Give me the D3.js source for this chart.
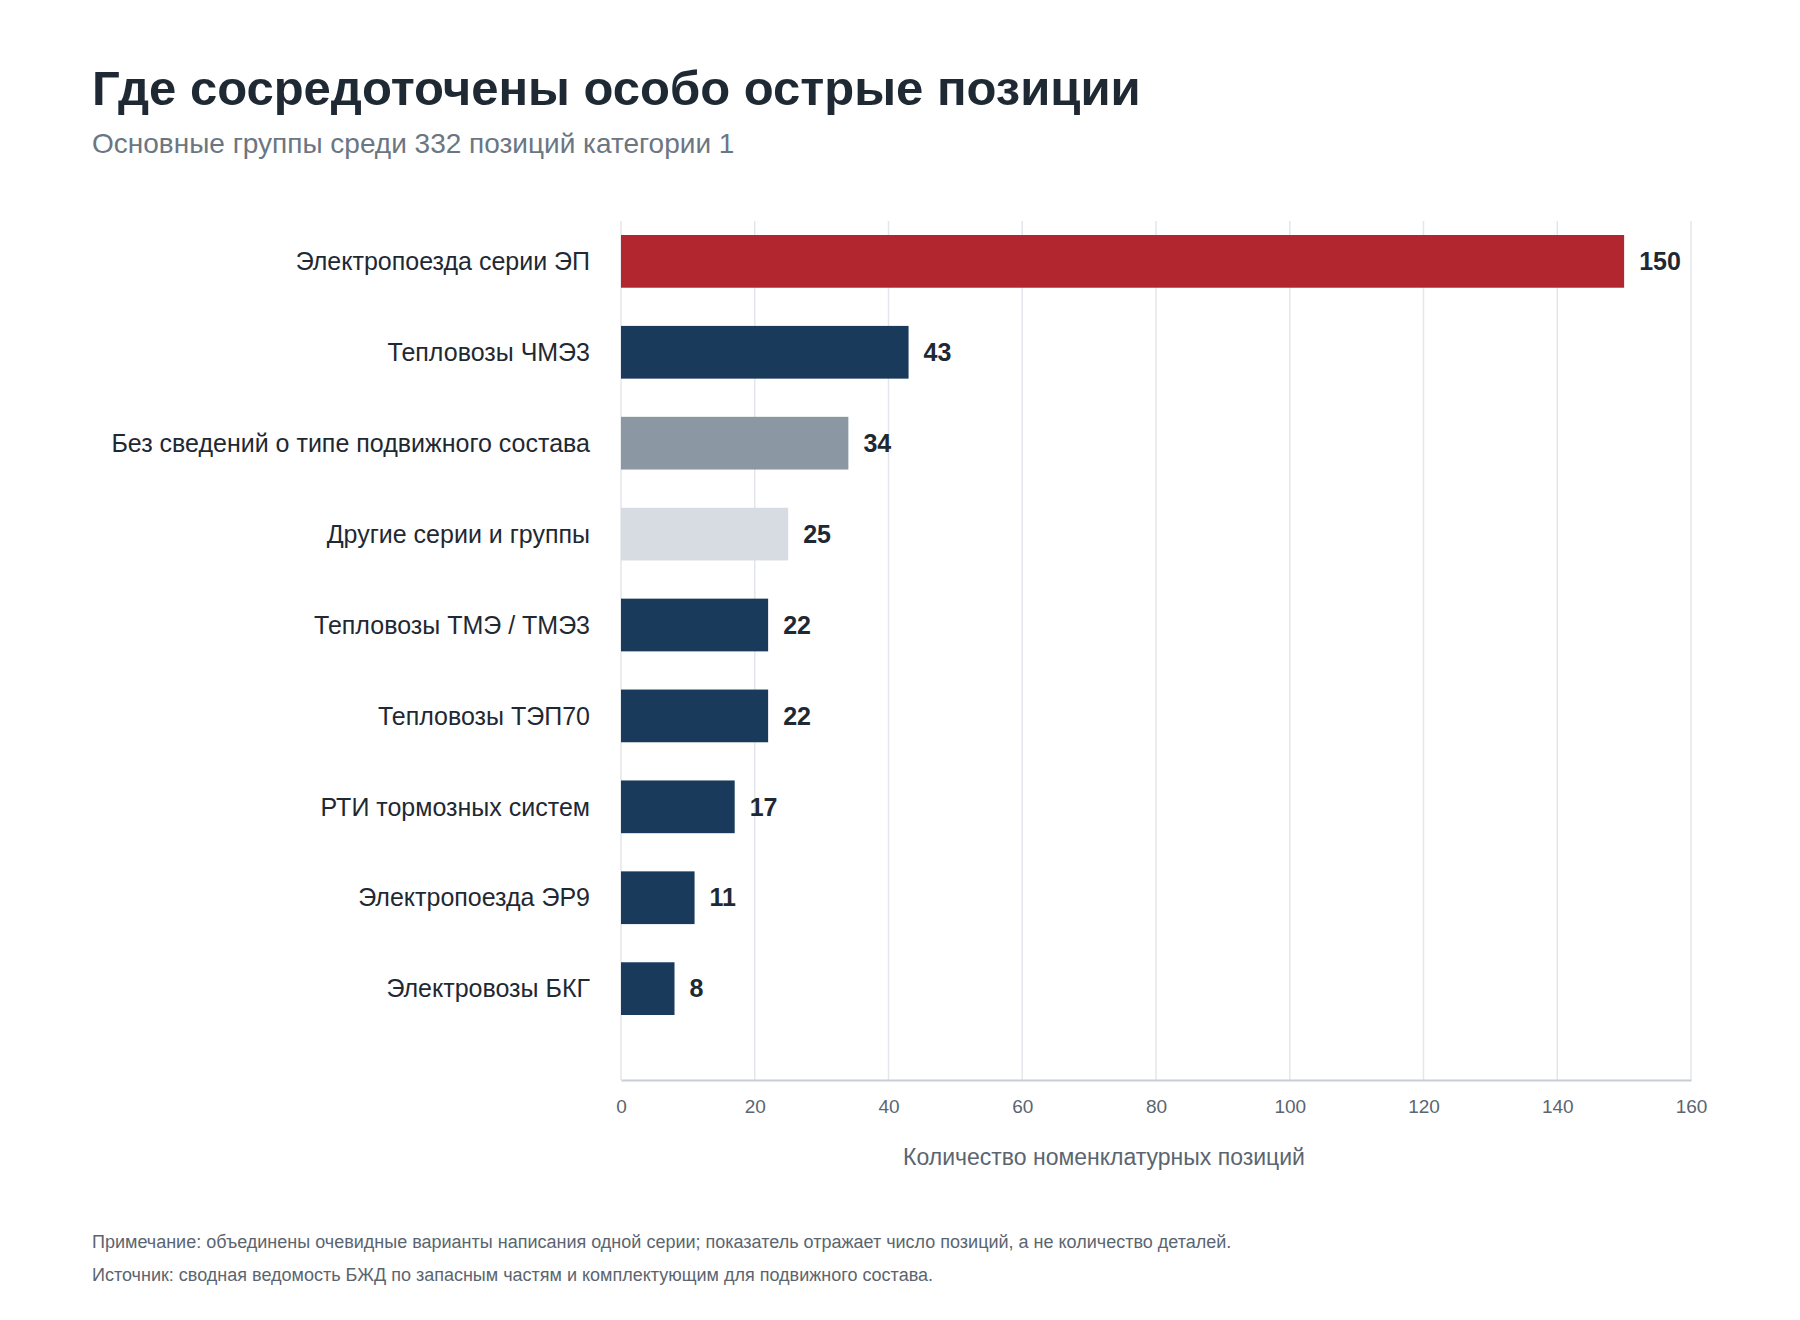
<!DOCTYPE html>
<html>
<head>
<meta charset="utf-8">
<script src="https://cdn.jsdelivr.net/npm/d3@7"></script>
<style>
  body { margin: 0; background: #fff; }
  text { font-family: "Liberation Sans", Arial, sans-serif; }
</style>
</head>
<body>
<script>
// data
const categories = [
    "Электропоезда серии ЭП",
    "Тепловозы ЧМЭ3",
    "Без сведений о типе подвижного состава",
    "Другие серии и группы",
    "Тепловозы ТМЭ / ТМЭ3",
    "Тепловозы ТЭП70",
    "РТИ тормозных систем",
    "Электропоезда ЭР9",
    "Электровозы БКГ"
];
const values = [150, 43, 34, 25, 22, 22, 17, 11, 8];
const groups = ["top", "main", "unknown", "other", "main", "main", "main", "main", "main"];
const xTicks = [0, 20, 40, 60, 80, 100, 120, 140, 160];

const colors = { top: "#b22630", main: "#1a3a5c", unknown: "#8b97a3", other: "#d7dce3" };

const canvWidth = 1800, canvHeight = 1320;
const svg = d3.select("body").append("svg")
    .attr("width", canvWidth)
    .attr("height", canvHeight);

// titles
svg.append("text")
    .attr("x", 92).attr("y", 105)
    .attr("font-size", "49px")
    .attr("font-weight", "bold")
    .attr("fill", "#1f2933")
    .text("Где сосредоточены особо острые позиции");

svg.append("text")
    .attr("x", 92).attr("y", 153)
    .attr("font-size", "28px")
    .attr("fill", "#6b7683")
    .text("Основные группы среди 332 позиций категории 1");

// plot area
const plot = { left: 621, right: 1691, top: 221, bottom: 1080 };

const x = d3.scaleLinear()
    .domain([0, 160])
    .range([plot.left, plot.right]);

const y = d3.scaleBand()
    .domain(categories)
    .range([235, 1015])
    .paddingInner(0.42)
    .paddingOuter(0);

// grid
svg.append("g")
    .selectAll("line")
    .data(xTicks)
    .enter()
    .append("line")
    .attr("x1", d => x(d)).attr("x2", d => x(d))
    .attr("y1", plot.top).attr("y2", plot.bottom)
    .attr("stroke", "#e3e6ea")
    .attr("stroke-width", 1.5);

// bars
svg.append("g")
    .selectAll("rect")
    .data(categories)
    .enter()
    .append("rect")
    .attr("x", x(0))
    .attr("y", d => y(d))
    .attr("width", (d, i) => x(values[i]) - x(0))
    .attr("height", y.bandwidth())
    .attr("fill", (d, i) => colors[groups[i]]);

// value labels
svg.append("g")
    .selectAll("text")
    .data(categories)
    .enter()
    .append("text")
    .attr("x", (d, i) => x(values[i]) + 15)
    .attr("y", d => y(d) + y.bandwidth() / 2)
    .attr("dy", "0.35em")
    .attr("font-size", "25px")
    .attr("font-weight", "bold")
    .attr("fill", "#1f2933")
    .text((d, i) => values[i]);

// category labels
svg.append("g")
    .selectAll("text")
    .data(categories)
    .enter()
    .append("text")
    .attr("x", 590)
    .attr("y", d => y(d) + y.bandwidth() / 2)
    .attr("dy", "0.35em")
    .attr("text-anchor", "end")
    .attr("font-size", "25px")
    .attr("fill", "#1f2933")
    .text(d => d);

// x axis
const xAxis = d3.axisBottom(x).tickValues(xTicks).tickSize(0).tickPadding(20);
const gx = svg.append("g")
    .attr("transform", "translate(0," + plot.bottom + ")")
    .call(xAxis);
gx.select(".domain").attr("stroke", "#c8ccd3").attr("stroke-width", 2);
gx.selectAll(".tick text")
    .attr("font-size", "19px")
    .attr("fill", "#5b6570")
    .attr("font-family", "Liberation Sans, Arial, sans-serif");

svg.append("text")
    .attr("x", 1104)
    .attr("y", 1165)
    .attr("text-anchor", "middle")
    .attr("font-size", "23px")
    .attr("fill", "#5b6570")
    .text("Количество номенклатурных позиций");

// notes
svg.append("text")
    .attr("x", 92).attr("y", 1248)
    .attr("font-size", "18px")
    .attr("fill", "#5b6570")
    .text("Примечание: объединены очевидные варианты написания одной серии; показатель отражает число позиций, а не количество деталей.");

svg.append("text")
    .attr("x", 92).attr("y", 1281)
    .attr("font-size", "18px")
    .attr("fill", "#5b6570")
    .text("Источник: сводная ведомость БЖД по запасным частям и комплектующим для подвижного состава.");
</script>
</body>
</html>
